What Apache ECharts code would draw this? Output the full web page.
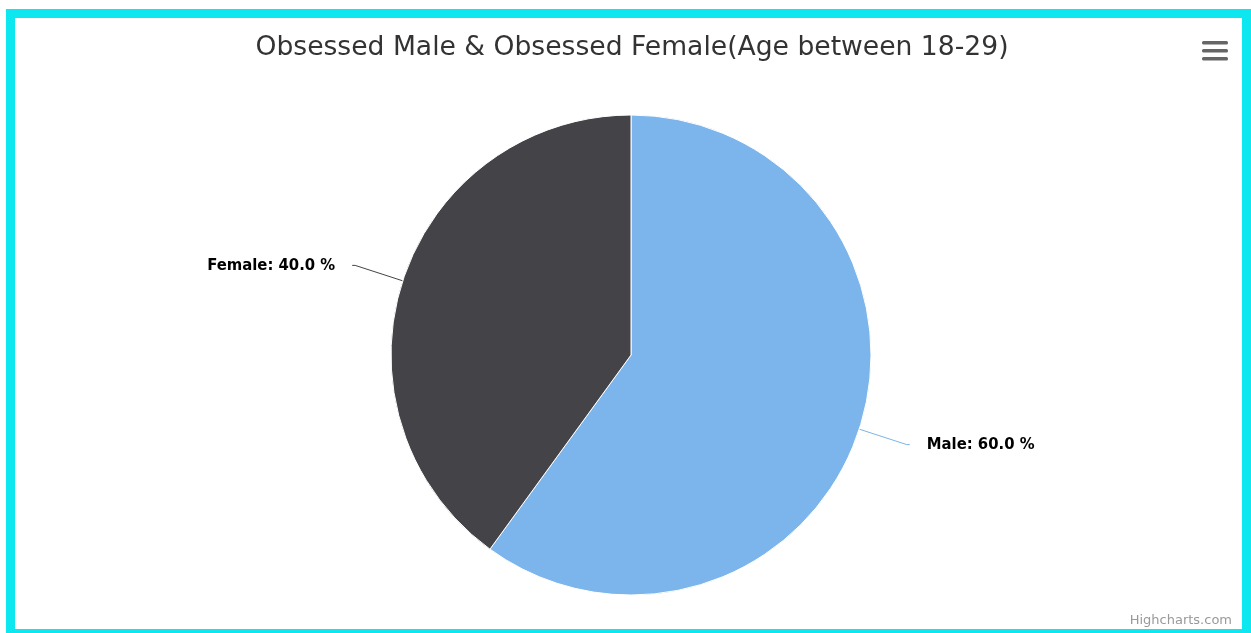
<!DOCTYPE html>
<html>
<head>
<meta charset="utf-8">
<script src="https://cdn.jsdelivr.net/npm/echarts@6/dist/echarts.min.js"></script>
<style>
  html, body { margin: 0; padding: 0; background: #fff; }
  #chart { width: 1251px; height: 633px; }
</style>
</head>
<body>
<div id="chart"></div>
<script>
// Share of obsessed respondents aged 18-29, by gender (percent)
const titleText = 'Obsessed Male & Obsessed Female(Age between 18-29)';
const categories = ['Male', 'Female'];
const shares = [60.0, 40.0];
const sliceColors = ['#7cb5ec', '#434348'];

const chart = echarts.init(document.getElementById('chart'), null, { renderer: 'canvas' });

const pieData = categories.map((name, i) => ({
  name: name,
  value: shares[i],
  itemStyle: { color: sliceColors[i] }
}));

chart.setOption({
  animation: false,
  backgroundColor: '#fff',
  title: {
    text: titleText,
    left: 627,
    textAlign: 'center',
    top: 30,
    textStyle: {
      fontFamily: 'DejaVu Sans',
      fontSize: 26.6,
      fontWeight: 'normal',
      color: '#333'
    }
  },
  graphic: [
    // frame around the chart
    {
      type: 'rect',
      silent: true,
      shape: { x: 10.5, y: 13.5, width: 1236, height: 620 },
      style: { fill: 'none', stroke: '#0de7ef', lineWidth: 9 },
      z: 100
    },
    // menu icon
    {
      type: 'group',
      left: 1202,
      top: 41,
      children: [0, 8, 16].map(dy => ({
        type: 'rect',
        shape: { x: 0, y: dy, width: 26, height: 3.5, r: 1.5 },
        style: { fill: '#666' }
      }))
    },
    // credits
    {
      type: 'text',
      right: 19,
      top: 614,
      style: {
        text: 'Highcharts.com',
        fontFamily: 'DejaVu Sans',
        fontSize: 13,
        fill: '#999'
      }
    }
  ],
  series: [{
    type: 'pie',
    center: [631, 355],
    radius: [0, 240],
    startAngle: 90,
    clockwise: true,
    data: pieData,
    itemStyle: { borderColor: '#fff', borderWidth: 1 },
    emphasis: { disabled: true },
    label: {
      show: true,
      position: 'outside',
      formatter: p => p.name + ': ' + p.value.toFixed(1) + ' %',
      fontFamily: 'DejaVu Sans Condensed, DejaVu Sans',
      fontWeight: 'bold',
      fontSize: 16.5,
      color: '#000',
      textBorderColor: '#fff',
      textBorderWidth: 1,
      distanceToLabelLine: 17
    },
    labelLine: {
      show: true,
      length: 50,
      length2: 3,
      smooth: false,
      lineStyle: { width: 1 }
    }
  }]
});
</script>
</body>
</html>
